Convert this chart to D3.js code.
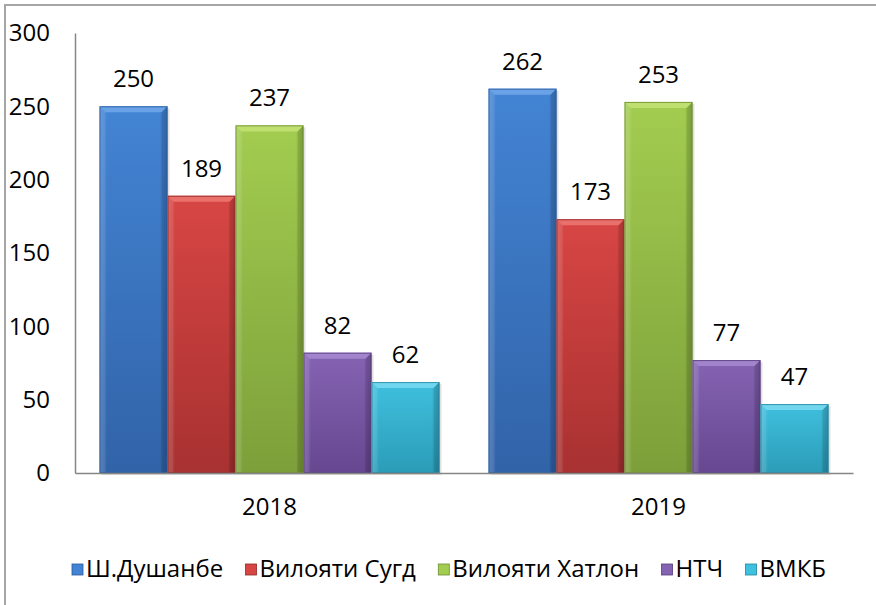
<!DOCTYPE html>
<html><head><meta charset="utf-8">
<script src="https://cdn.jsdelivr.net/npm/d3@7"></script>
<style>html,body{margin:0;padding:0;background:#fff;}svg{display:block;}</style>
</head><body>
<svg id="c" width="876" height="605"></svg>
<script>
const years = ["2018", "2019"];
const seriesNames = ["Ш.Душанбе", "Вилояти Сугд", "Вилояти Хатлон", "НТЧ", "ВМКБ"];
const values2018 = [250, 189, 237, 82, 62];
const values2019 = [262, 173, 253, 77, 47];
const yTicks = [0, 50, 100, 150, 200, 250, 300];
const colors = [
  {top:"#4384d4", bot:"#3163a8", bevel:"#6aa2e8", line:"#2a5a9c"},
  {top:"#d74644", bot:"#a83131", bevel:"#ea706c", line:"#8f2828"},
  {top:"#a2cd50", bot:"#7d9f3a", bevel:"#bfe070", line:"#6d8c30"},
  {top:"#8563b3", bot:"#664790", bevel:"#a184cc", line:"#563c7c"},
  {top:"#3fc0de", bot:"#2b9cb8", bevel:"#72d6ee", line:"#24879f"}
];
const valuesByYear = [values2018, values2019];
const FONT = "'Open Sans', 'Noto Sans', sans-serif";
const FS = 24;

const svg = d3.select("#c");
const defs = svg.append("defs");
colors.forEach((c,i)=>{
  const g = defs.append("linearGradient").attr("id","g"+i).attr("x1",0).attr("y1",0).attr("x2",0).attr("y2",1);
  g.append("stop").attr("offset","0%").attr("stop-color",c.top);
  g.append("stop").attr("offset","100%").attr("stop-color",c.bot);
  const h = defs.append("linearGradient").attr("id","h"+i).attr("x1",0).attr("y1",0).attr("x2",1).attr("y2",0);
  h.append("stop").attr("offset","0%").attr("stop-color","#fff").attr("stop-opacity",0.12);
  h.append("stop").attr("offset","12%").attr("stop-color","#fff").attr("stop-opacity",0);
  h.append("stop").attr("offset","88%").attr("stop-color","#000").attr("stop-opacity",0);
  h.append("stop").attr("offset","100%").attr("stop-color","#000").attr("stop-opacity",0.15);
});

// outer border
svg.append("rect").attr("x",5).attr("y",5).attr("width",900).attr("height",700)
  .attr("fill","none").attr("stroke","#a6a6a6").attr("stroke-width",2);

const y = d3.scaleLinear().domain([0,300]).range([473,33]);
const x0 = d3.scaleBand().domain(years).range([75,853]).paddingInner(0.126).paddingOuter(0.063);
const x1 = d3.scaleBand().domain(seriesNames).range([0, x0.bandwidth()]);

// y axis
const yAxis = d3.axisLeft(y).tickValues(yTicks).tickSize(0).tickPadding(25);
const ya = svg.append("g").attr("transform","translate(75,0)").call(yAxis);
ya.select(".domain").attr("stroke","#868686").attr("stroke-width",1.5);
ya.selectAll("text").attr("font-family",FONT).attr("font-size",FS).attr("fill","#000");

// bars
const data = [];
years.forEach((yr,yi)=>seriesNames.forEach((s,si)=>data.push({yr, s, si, v:valuesByYear[yi][si]})));
const bars = svg.append("g").selectAll("g").data(data).join("g");
bars.each(function(d){
  const gx = x0(d.yr)+x1(d.s), w = x1.bandwidth(), top = y(d.v), h = y(0)-top;
  const c = colors[d.si], g = d3.select(this);
  g.append("rect").attr("x",gx+2).attr("y",top+2).attr("width",w).attr("height",h).attr("fill","#000").attr("opacity",0.12);
  g.append("rect").attr("x",gx).attr("y",top).attr("width",w).attr("height",h).attr("fill",`url(#g${d.si})`);
  g.append("rect").attr("x",gx).attr("y",top).attr("width",w).attr("height",h).attr("fill",`url(#h${d.si})`);
  const b = 6;
  g.append("path").attr("d",`M${gx},${top}L${gx+w},${top}L${gx+w-b},${top+b}L${gx+b},${top+b}Z`).attr("fill",c.bevel);
  g.append("path").attr("d",`M${gx},${top}L${gx+b},${top+b}L${gx+b},${top+h}L${gx},${top+h}Z`).attr("fill","#fff").attr("opacity",0.08);
  g.append("path").attr("d",`M${gx+w},${top}L${gx+w-b},${top+b}L${gx+w-b},${top+h}L${gx+w},${top+h}Z`).attr("fill","#000").attr("opacity",0.1);
  g.append("rect").attr("x",gx+0.5).attr("y",top+0.5).attr("width",w-1).attr("height",h-1).attr("fill","none").attr("stroke",c.line).attr("stroke-width",1).attr("opacity",0.8);
  g.append("text").attr("x",gx+w/2).attr("y",top-19).attr("text-anchor","middle")
    .attr("font-family",FONT).attr("font-size",FS).attr("fill","#000").text(d.v);
});

// x axis
const xAxis = d3.axisBottom(x0).tickSize(0).tickPadding(25);
const xa = svg.append("g").attr("transform","translate(0,473)").call(xAxis);
xa.select(".domain").attr("stroke","#868686").attr("stroke-width",1.5);
xa.selectAll("text").attr("font-family",FONT).attr("font-size",FS).attr("fill","#000");

// legend
const leg = svg.append("g");
const items = leg.selectAll("g").data(seriesNames).join("g");
items.append("rect").attr("width",11).attr("height",11).attr("y",-13).attr("fill",(d,i)=>colors[i].top).attr("stroke",(d,i)=>colors[i].line).attr("stroke-width",0.8);
items.append("text").attr("x",14).attr("y",0).attr("font-family",FONT).attr("font-size",FS).attr("fill","#000").text(d=>d);
const widths = [];
items.each(function(){ widths.push(14 + d3.select(this).select("text").node().getComputedTextLength()); });
const total = 826 - 72;
const gap = (total - d3.sum(widths)) / (seriesNames.length - 1);
let cx = 72;
items.each(function(d,i){ d3.select(this).attr("transform",`translate(${cx},577)`); cx += widths[i] + gap; });
</script>
</body></html>
